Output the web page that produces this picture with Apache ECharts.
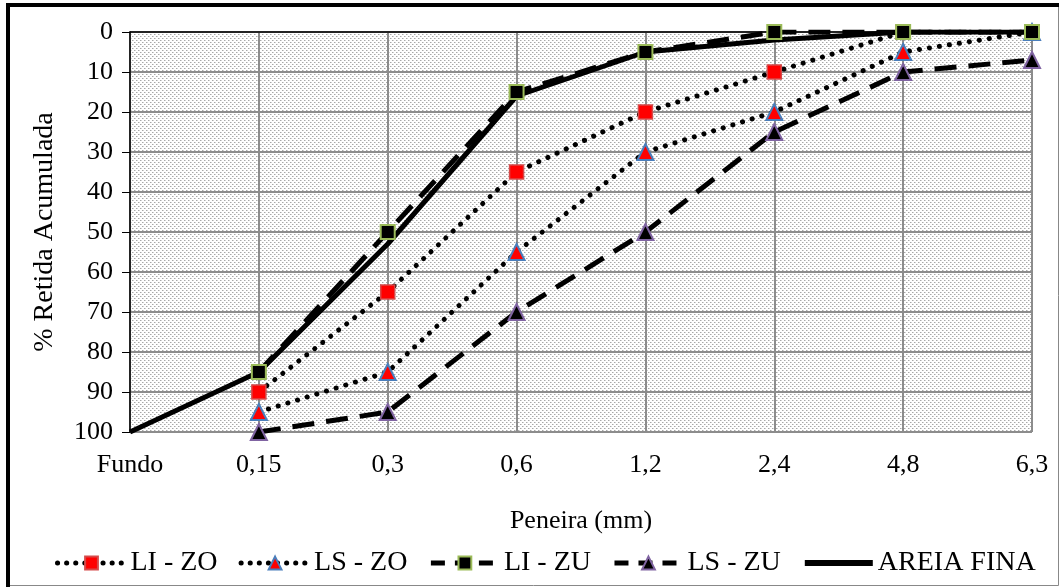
<!DOCTYPE html>
<html><head><meta charset="utf-8">
<script src="https://cdn.jsdelivr.net/npm/echarts@6/dist/echarts.min.js"></script>
<style>html,body{margin:0;padding:0;background:#fff}#c{width:1061px;height:588px}</style>
</head><body><div id="c"></div>
<script>
const categories = ['Fundo','0,15','0,3','0,6','1,2','2,4','4,8','6,3'];
const yTicks = [0,10,20,30,40,50,60,70,80,90,100];
const liZO = [null, 90, 65, 35, 20, 10, 0, 0];
const lsZO = [null, 95, 85, 55, 30, 20, 5, 0];
const liZU = [null, 85, 50, 15, 5, 0, 0, 0];
const lsZU = [null, 100, 95, 70, 50, 25, 10, 7];
const areiaFina = [100, 85, 53, 16, 5, 2, 0, 0];

const tile = document.createElement('canvas');
tile.width = 4; tile.height = 4;
const g = tile.getContext('2d');
g.fillStyle = '#ffffff'; g.fillRect(0,0,4,4);
g.fillStyle = '#a8a8a8'; g.fillRect(0,0,1,1); g.fillRect(2,2,1,1);
g.fillStyle = '#d4d4d4'; g.fillRect(1,0,1,1); g.fillRect(3,2,1,1);

const font = 'Liberation Serif';
const chart = echarts.init(document.getElementById('c'), null, {renderer:'canvas'});
const dotted = {color:'#000', width:5, type:[0.1,10], cap:'round'};
const dashed = {color:'#000', width:5, type:[22,12], cap:'butt'};
chart.setOption({
  animation:false,
  backgroundColor:'#fff',
  textStyle:{fontFamily:font, color:'#000'},
  graphic:[
    {type:'rect', shape:{x:8.5,y:5.5,width:1050,height:580}, style:{fill:null, stroke:'#888', lineWidth:1}, z:-1},
    {type:'line', shape:{x1:6,y1:5,x2:1059,y2:5}, style:{stroke:'#000', lineWidth:4}},
    {type:'line', shape:{x1:8,y1:3,x2:8,y2:587}, style:{stroke:'#000', lineWidth:4}}
  ],
  grid:{left:130, right:29, top:32, bottom:156, show:true, borderWidth:0,
        backgroundColor:{image:tile, repeat:'repeat'}},
  legend:{
    bottom:6, left:50, itemWidth:68, itemHeight:16, itemGap:21,
    textStyle:{fontFamily:font, fontSize:28, color:'#000'},
    lineStyle:{width:5},
    data:[
      {name:'LI - ZO', lineStyle:{width:5, type:[0.1,9], cap:'round'}},
      {name:'LS - ZO', lineStyle:{width:5, type:[0.1,9], cap:'round'}},
      {name:'LI - ZU', lineStyle:{width:5, type:[14,10], cap:'butt'}},
      {name:'LS - ZU', lineStyle:{width:5, type:[14,10], cap:'butt'}},
      {name:'AREIA FINA', itemStyle:{opacity:0}, lineStyle:{width:6, type:'solid'}}
    ]
  },
  xAxis:{
    type:'category', data:categories, boundaryGap:false,
    name:'Peneira (mm)', nameLocation:'middle', nameGap:76,
    nameTextStyle:{fontFamily:font, fontSize:26, color:'#000'},
    axisLine:{lineStyle:{color:'#000', width:1.5}},
    axisTick:{show:false},
    axisLabel:{fontFamily:font, fontSize:26, color:'#000', margin:20},
    splitLine:{show:true, lineStyle:{color:'#8c8c8c', width:2}}
  },
  yAxis:{
    type:'value', inverse:true, min:0, max:100, interval:10,
    name:'% Retida Acumulada', nameLocation:'middle', nameGap:71, nameRotate:90,
    nameTextStyle:{fontFamily:font, fontSize:28, color:'#000'},
    axisLine:{show:true, lineStyle:{color:'#000', width:1.5}},
    axisTick:{show:true, length:8, lineStyle:{color:'#000'}},
    axisLabel:{fontFamily:font, fontSize:26, color:'#000', margin:17,
      formatter:v=> yTicks.includes(v) ? String(v) : ''},
    splitLine:{show:true, lineStyle:{color:'#8c8c8c', width:2}}
  },
  series:[
    {name:'LI - ZO', type:'line', data:liZO, symbol:'rect', symbolSize:14,
     itemStyle:{color:'#ff0000', borderColor:'#d64a4a', borderWidth:1.5},
     lineStyle:dotted, z:2},
    {name:'LS - ZO', type:'line', data:lsZO, symbol:'triangle', symbolSize:16,
     itemStyle:{color:'#ff0000', borderColor:'#4a7ebb', borderWidth:2},
     lineStyle:dotted, z:3},
    {name:'LI - ZU', type:'line', data:liZU, symbol:'rect', symbolSize:14,
     itemStyle:{color:'#000000', borderColor:'#9bbb59', borderWidth:2},
     lineStyle:dashed, z:5},
    {name:'LS - ZU', type:'line', data:lsZU, symbol:'triangle', symbolSize:16,
     itemStyle:{color:'#000000', borderColor:'#8064a2', borderWidth:2},
     lineStyle:dashed, z:4},
    {name:'AREIA FINA', type:'line', data:areiaFina, symbol:'none',
     itemStyle:{color:'#000'}, lineStyle:{color:'#000', width:5}, z:4}
  ]
});
</script></body></html>
